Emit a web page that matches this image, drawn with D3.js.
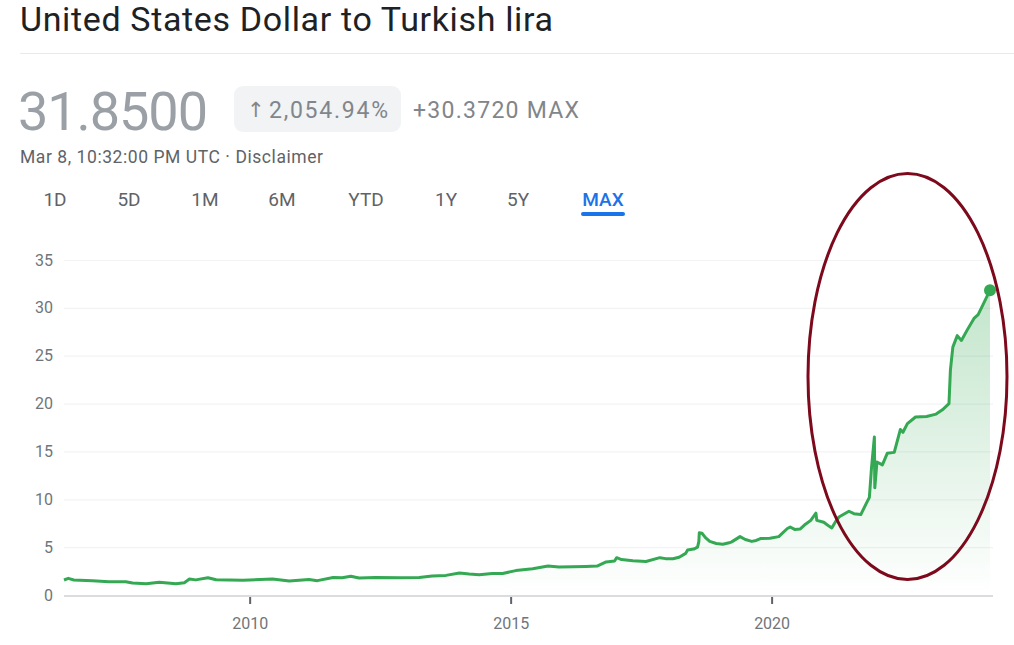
<!DOCTYPE html>
<html>
<head>
<meta charset="utf-8">
<script src="https://cdn.jsdelivr.net/npm/d3@7"></script>
<style>
  body { margin: 0; background: #fff; }
  svg { display: block; font-family: Roboto, "Noto Sans", sans-serif; }
</style>
</head>
<body>
<svg id="chart" width="1014" height="645"></svg>
<script>
// USD/TRY, values
const dates = [
  "2006-06-12","2006-07-12","2006-08-20","2006-12-28","2007-04-22","2007-08-18","2007-10-05",
  "2008-01-08","2008-04-08","2008-08-03","2008-10-01","2008-11-06","2008-12-20","2009-03-15",
  "2009-05-12","2009-11-14","2010-06-10","2010-10-05","2011-02-20","2011-04-20","2011-08-08",
  "2011-10-10","2011-12-10","2012-02-05","2012-06-01","2012-11-15","2013-04-01","2013-07-01",
  "2013-10-05","2014-01-08","2014-03-17","2014-05-26","2014-08-25","2014-11-06","2015-02-06",
  "2015-06-04","2015-09-20","2015-12-05","2016-03-10","2016-06-10","2016-08-28","2016-10-30",
  "2016-12-28","2017-01-12","2017-02-15","2017-05-05","2017-08-05","2017-11-10","2017-12-20",
  "2018-02-10","2018-03-25","2018-05-10","2018-05-23","2018-07-05","2018-08-01","2018-08-10",
  "2018-08-13","2018-09-01","2018-09-25","2018-10-25","2018-12-10","2019-01-25","2019-03-10",
  "2019-03-28","2019-05-25","2019-07-01","2019-08-15","2019-09-15","2019-10-15","2019-12-20",
  "2020-02-20","2020-04-20","2020-05-10","2020-06-10","2020-07-20","2020-08-25","2020-10-01",
  "2020-11-06","2020-11-12","2020-12-31","2021-02-05","2021-02-25","2021-03-25","2021-04-16",
  "2021-06-25","2021-07-30","2021-09-16","2021-10-22","2021-11-15","2021-11-30","2021-12-20",
  "2021-12-23","2022-01-07","2022-02-14","2022-03-20","2022-05-08","2022-06-20","2022-07-08",
  "2022-08-08","2022-10-04","2022-12-20","2023-02-25","2023-04-10","2023-05-26","2023-06-05",
  "2023-06-22","2023-07-23","2023-08-21","2023-10-01","2023-11-17","2023-12-16","2024-01-15",
  "2024-03-08"
];
const rates = [
  1.57,1.74,1.57,1.50,1.39,1.39,1.25,
  1.18,1.32,1.18,1.29,1.67,1.58,1.81,
  1.60,1.53,1.67,1.46,1.62,1.50,1.82,
  1.81,1.96,1.78,1.83,1.80,1.84,1.98,
  2.05,2.30,2.19,2.12,2.25,2.25,2.55,
  2.75,3.02,2.92,2.95,2.98,3.02,3.45,
  3.55,3.90,3.70,3.58,3.50,3.90,3.80,
  3.78,3.95,4.35,4.70,4.80,5.00,5.60,
  6.50,6.45,6.00,5.60,5.38,5.30,5.45,
  5.55,6.10,5.80,5.60,5.70,5.90,5.92,
  6.10,6.95,7.10,6.85,6.90,7.40,7.80,
  8.55,7.80,7.60,7.20,7.00,7.70,8.15,
  8.75,8.50,8.40,9.50,10.2,13.3,16.5,
  11.2,13.9,13.6,14.8,14.9,17.3,17.0,
  17.9,18.6,18.65,18.9,19.35,20.0,23.5,
  25.9,27.1,26.6,27.7,28.9,29.3,30.2,
  31.85
];
const yTicks = [0, 5, 10, 15, 20, 25, 30, 35];
const xTickYears = [2010, 2015, 2020];
const tabs = ["1D", "5D", "1M", "6M", "YTD", "1Y", "5Y", "MAX"];
const tabCenters = [55, 129, 205, 282, 366, 446, 518, 603];

const parse = d3.timeParse("%Y-%m-%d");
const data = dates.map((d, i) => ({ date: parse(d), value: rates[i] }));

const svg = d3.select("#chart");

// header
svg.append("text").attr("x", 20).attr("y", 31)
    .attr("font-size", 34).attr("fill", "#202124")
    .attr("textLength", 533).attr("lengthAdjust", "spacing")
    .text("United States Dollar to Turkish lira");
svg.append("line").attr("x1", 20).attr("x2", 1014).attr("y1", 53.5).attr("y2", 53.5)
    .attr("stroke", "#e8eaed");

svg.append("text").attr("x", 18).attr("y", 130)
    .attr("font-size", 54).attr("fill", "#9aa0a6")
    .attr("textLength", 190).attr("lengthAdjust", "spacing")
    .text("31.8500");
svg.append("rect").attr("x", 234).attr("y", 86).attr("width", 167).attr("height", 46)
    .attr("rx", 9).attr("fill", "#f1f3f4");
svg.append("text").attr("x", 247).attr("y", 117)
    .attr("font-size", 21).attr("fill", "#80868b")
    .attr("font-family", "'DejaVu Sans', sans-serif")
    .text("\u2191");
svg.append("text").attr("x", 269).attr("y", 118)
    .attr("font-size", 23).attr("fill", "#80868b")
    .attr("textLength", 119).attr("lengthAdjust", "spacing")
    .text("2,054.94%");
svg.append("text").attr("x", 413).attr("y", 118)
    .attr("font-size", 23).attr("fill", "#80868b")
    .attr("textLength", 166).attr("lengthAdjust", "spacing")
    .text("+30.3720 MAX");
svg.append("text").attr("x", 20).attr("y", 163)
    .attr("font-size", 17.5).attr("fill", "#5f6368")
    .attr("textLength", 303).attr("lengthAdjust", "spacing")
    .text("Mar 8, 10:32:00 PM UTC \u00b7 Disclaimer");

svg.append("g").selectAll("text").data(tabs).join("text")
    .attr("x", (d, i) => tabCenters[i]).attr("y", 206)
    .attr("text-anchor", "middle").attr("font-size", 19)
    .attr("font-weight", d => d === "MAX" ? 500 : 400)
    .attr("fill", d => d === "MAX" ? "#1a73e8" : "#5f6368")
    .text(d => d);
svg.append("rect").attr("x", 581).attr("y", 212).attr("width", 44).attr("height", 4)
    .attr("rx", 2).attr("fill", "#1a73e8");

// chart
const x = d3.scaleTime()
    .domain([parse("2006-06-12"), parse("2024-03-08")])
    .range([64, 990]);
const y = d3.scaleLinear().domain([0, 35]).range([595, 260]);

svg.append("g").selectAll("line").data(yTicks.filter(d => d > 0)).join("line")
    .attr("x1", 64).attr("x2", 993)
    .attr("y1", d => y(d) + 0.5).attr("y2", d => y(d) + 0.5)
    .attr("stroke", "#f1f3f4").attr("stroke-width", 1.2);

const yAxis = svg.append("g").attr("transform", "translate(53,0)")
    .call(d3.axisLeft(y).tickValues(yTicks).tickSize(0).tickPadding(0));
yAxis.select(".domain").remove();
yAxis.selectAll("text").attr("font-size", 16).attr("fill", "#70757a")
    .attr("font-family", "Roboto, sans-serif");

const grad = svg.append("defs").append("linearGradient")
    .attr("id", "fillGrad").attr("gradientUnits", "userSpaceOnUse")
    .attr("x1", 0).attr("x2", 0).attr("y1", y(32)).attr("y2", y(0));
grad.append("stop").attr("offset", 0).attr("stop-color", "#34a853").attr("stop-opacity", 0.3);
grad.append("stop").attr("offset", 1).attr("stop-color", "#34a853").attr("stop-opacity", 0);

svg.append("path").datum(data)
    .attr("fill", "url(#fillGrad)")
    .attr("d", d3.area().x(d => x(d.date)).y0(y(0)).y1(d => y(d.value)));

svg.append("line").attr("x1", 64).attr("x2", 993).attr("y1", 596).attr("y2", 596)
    .attr("stroke", "#dadce0").attr("stroke-width", 2);

const xAxis = svg.append("g").attr("transform", "translate(0,597)")
    .call(d3.axisBottom(x)
      .tickValues(xTickYears.map(yr => new Date(yr, 0, 1)))
      .tickFormat(d3.timeFormat("%Y"))
      .tickSize(7).tickPadding(14));
xAxis.select(".domain").remove();
xAxis.selectAll(".tick line").attr("stroke", "#5f6368").attr("stroke-width", 2);
xAxis.selectAll("text").attr("font-size", 16).attr("fill", "#70757a")
    .attr("font-family", "Roboto, sans-serif");

svg.append("path").datum(data)
    .attr("fill", "none").attr("stroke", "#34a853").attr("stroke-width", 3)
    .attr("stroke-linejoin", "round")
    .attr("d", d3.line().x(d => x(d.date)).y(d => y(d.value)));

const last = data[data.length - 1];
svg.append("circle").attr("cx", x(last.date)).attr("cy", y(last.value))
    .attr("r", 6).attr("fill", "#34a853");

// hand-drawn style highlight ellipse
svg.append("ellipse").attr("cx", 907.5).attr("cy", 376.5).attr("rx", 99.5).attr("ry", 203)
    .attr("fill", "none").attr("stroke", "#7d0a1c").attr("stroke-width", 3);
</script>
</body>
</html>
